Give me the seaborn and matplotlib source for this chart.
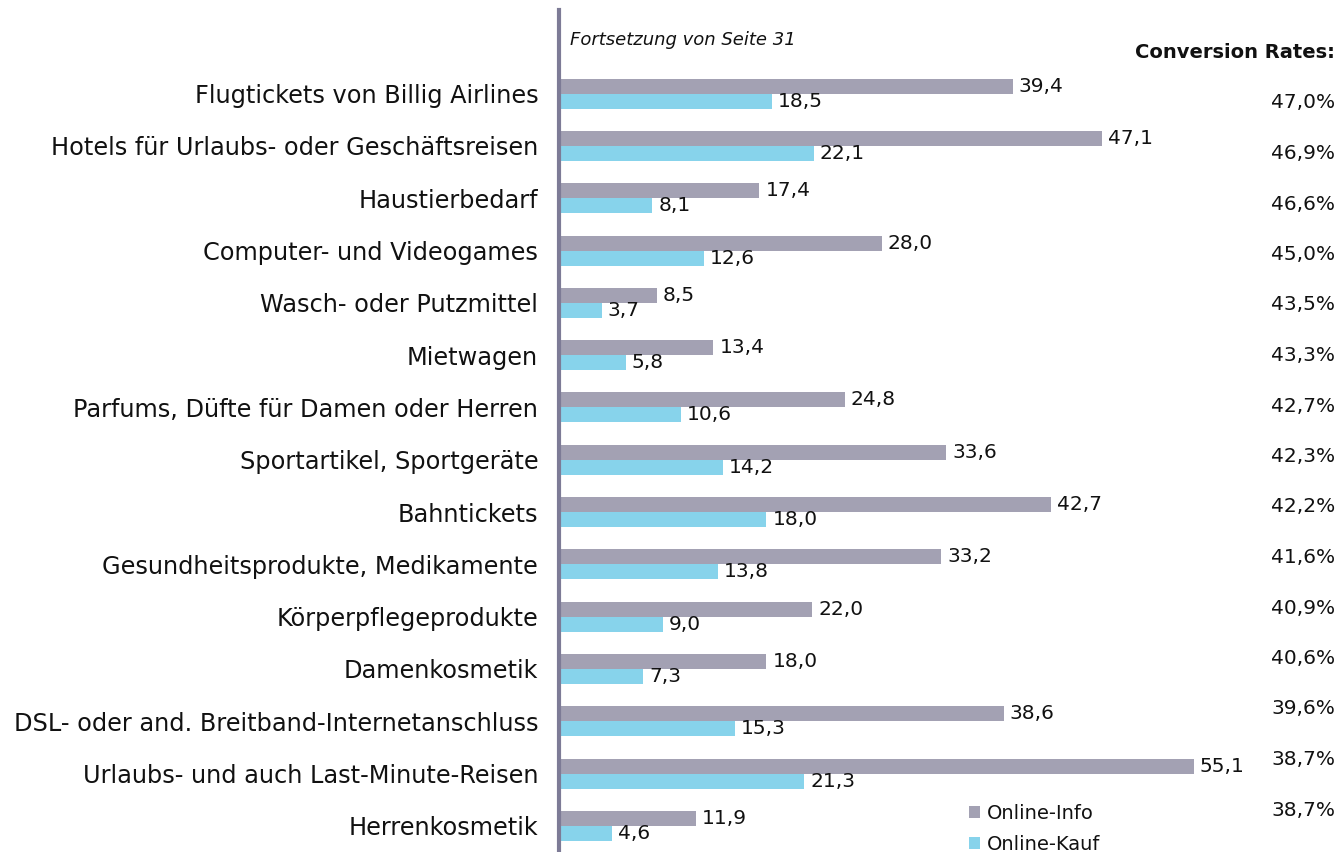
import numpy as np
import pandas as pd
import matplotlib
matplotlib.use('Agg')
import matplotlib.pyplot as plt
import seaborn as sns

categories = ['Flugtickets von Billig Airlines',
              'Hotels für Urlaubs- oder Geschäftsreisen',
              'Haustierbedarf',
              'Computer- und Videogames',
              'Wasch- oder Putzmittel',
              'Mietwagen',
              'Parfums, Düfte für Damen oder Herren',
              'Sportartikel, Sportgeräte',
              'Bahntickets',
              'Gesundheitsprodukte, Medikamente',
              'Körperpflegeprodukte',
              'Damenkosmetik',
              'DSL- oder and. Breitband-Internetanschluss',
              'Urlaubs- und auch Last-Minute-Reisen',
              'Herrenkosmetik']
online_info = [39.4, 47.1, 17.4, 28.0, 8.5, 13.4, 24.8, 33.6, 42.7, 33.2, 22.0, 18.0, 38.6, 55.1, 11.9]
online_kauf = [18.5, 22.1, 8.1, 12.6, 3.7, 5.8, 10.6, 14.2, 18.0, 13.8, 9.0, 7.3, 15.3, 21.3, 4.6]
conv_rates = [47.0, 46.9, 46.6, 45.0, 43.5, 43.3, 42.7, 42.3, 42.2, 41.6, 40.9, 40.6, 39.6, 38.7, 38.7]
series = ['Online-Info', 'Online-Kauf']
colors = ['#a3a1b3', '#87d3eb']

df = pd.DataFrame({
    'Kategorie': categories * 2,
    'Wert': online_info + online_kauf,
    'Serie': [series[0]] * len(categories) + [series[1]] * len(categories),
})

sns.set_style('white')
plt.rcParams['font.family'] = ['DejaVu Sans']
plt.rcParams['text.color'] = '#111111'
plt.rcParams['ytick.color'] = '#111111'

W, H = 1339, 852
fig = plt.figure(figsize=(W / 100, H / 100), dpi=100)
ax = fig.add_axes([559 / W, 0, 1 - 559 / W, 1 - 10 / H])

sns.barplot(data=df, y='Kategorie', x='Wert', hue='Serie', orient='h',
            palette=colors, width=0.574, saturation=1, linewidth=0, ax=ax)

ax.set_xlim(0, 780 / 11.52)
ax.set_ylim(14.5, -1.6)
ax.set_xlabel('')
ax.set_ylabel('')
ax.set_xticks([])
ax.tick_params(axis='y', length=0, pad=15, labelsize=17.3, labelcolor='#111111')
for s in ['top', 'right', 'bottom']:
    ax.spines[s].set_visible(False)
ax.spines['left'].set_color('#7d7b96')
ax.spines['left'].set_linewidth(3)

for cont in ax.containers:
    ax.bar_label(cont, labels=[f'{v:.1f}'.replace('.', ',') for v in cont.datavalues],
                 padding=4.3, fontsize=14.5, color='#111111')

handles, labels = ax.get_legend_handles_labels()
ax.get_legend().remove()
fig.legend(handles, labels, loc='lower left', bbox_to_anchor=(955 / W, -0.018),
           frameon=False, fontsize=14, handlelength=0.57, handleheight=0.57,
           handletextpad=0.35, labelspacing=0.6, borderpad=0.2)

fig.text(570 / W, 1 - 40 / H, 'Fortsetzung von Seite 31', style='italic',
         fontsize=13, va='center', ha='left', color='#111111')
fig.text(1335 / W, 1 - 52 / H, 'Conversion Rates:', fontweight='bold',
         fontsize=14, va='center', ha='right', color='#111111')
rate_y = np.linspace(103, 810, len(conv_rates))
for y, r in zip(rate_y, conv_rates):
    fig.text(1335 / W, 1 - y / H, f'{r:.1f}%'.replace('.', ','), fontsize=14.5,
             va='center', ha='right', color='#111111')

fig.savefig('out.png', dpi=100)
